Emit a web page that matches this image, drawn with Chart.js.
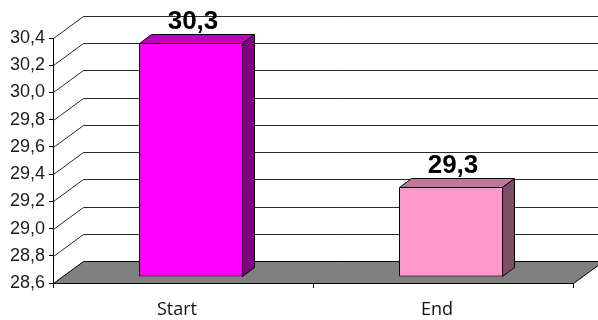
<!DOCTYPE html>
<html>
<head>
<meta charset="utf-8">
<script src="https://cdn.jsdelivr.net/npm/chart.js@4/dist/chart.umd.min.js"></script>
<style>
html,body{margin:0;padding:0;background:#fff;}
#c{display:block;}
</style>
</head>
<body>
<canvas id="c" width="598" height="320"></canvas>
<script>
const categories = ['Start', 'End'];
const values = [30.32, 29.26];
const valueLabels = ['30,3', '29,3'];
const frontColors = ['#FF00FF', '#FF99CC'];
const topColors = ['#C000C0', '#C0759C'];
const sideColors = ['#800080', '#7F4C66'];
const yMin = 28.6, yMax = 30.4, yStep = 0.2;

const WALL_DX = 30, WALL_DY = -22;   // back wall offset
const BAR_DX = 8, BAR_DY = -6;       // bar front offset
const DEPTH_DX = 12, DEPTH_DY = -9;  // bar depth

const fmt = v => v.toFixed(1).replace('.', ',');

const threeD = {
  id: 'threeD',
  beforeDatasetsDraw(chart) {
    const ctx = chart.ctx;
    const ys = chart.scales.y;
    const a = chart.chartArea;
    const L = a.left + 0.5, R = a.right + 0.5, B = Math.round(a.bottom) + 0.5;
    ctx.save();
    // floor
    ctx.beginPath();
    ctx.moveTo(L, B);
    ctx.lineTo(L + WALL_DX, B + WALL_DY);
    ctx.lineTo(R + WALL_DX, B + WALL_DY);
    ctx.lineTo(R, B);
    ctx.closePath();
    ctx.fillStyle = '#808080';
    ctx.fill();
    ctx.strokeStyle = '#000';
    ctx.lineWidth = 1;
    ctx.stroke();
    // back wall gridlines
    ctx.strokeStyle = '#2a2a2a';
    ys.ticks.forEach(t => {
      if (Math.abs(t.value - yMin) < 1e-6) return;
      const y = Math.round(ys.getPixelForValue(t.value)) + 0.5;
      ctx.beginPath();
      ctx.moveTo(L, y);
      ctx.lineTo(L + WALL_DX, y + WALL_DY);
      ctx.lineTo(R + WALL_DX + 40, y + WALL_DY);
      ctx.stroke();
    });
    ctx.restore();
    ctx.save();
    ctx.translate(BAR_DX, BAR_DY);
  },
  afterDatasetsDraw(chart) {
    const ctx = chart.ctx;
    ctx.restore();
    const meta = chart.getDatasetMeta(0);
    ctx.save();
    ctx.translate(BAR_DX, BAR_DY);
    ctx.strokeStyle = '#000';
    ctx.lineWidth = 1;
    meta.data.forEach((bar, i) => {
      const p = bar.getProps(['x', 'y', 'base', 'width'], true);
      const x0 = Math.round(p.x - p.width / 2) + 0.5;
      const x1 = Math.round(p.x + p.width / 2) - 0.5;
      const yt = Math.round(p.y) + 0.5;
      const yb = Math.round(p.base) - 0.5;
      // top face
      ctx.beginPath();
      ctx.moveTo(x0, yt);
      ctx.lineTo(x0 + DEPTH_DX, yt + DEPTH_DY);
      ctx.lineTo(x1 + DEPTH_DX, yt + DEPTH_DY);
      ctx.lineTo(x1, yt);
      ctx.closePath();
      ctx.fillStyle = topColors[i];
      ctx.fill();
      ctx.stroke();
      // side face
      ctx.beginPath();
      ctx.moveTo(x1, yt);
      ctx.lineTo(x1 + DEPTH_DX, yt + DEPTH_DY);
      ctx.lineTo(x1 + DEPTH_DX, yb + DEPTH_DY);
      ctx.lineTo(x1, yb);
      ctx.closePath();
      ctx.fillStyle = sideColors[i];
      ctx.fill();
      ctx.stroke();
      // value label
      ctx.fillStyle = '#000';
      ctx.font = 'bold 26px "Liberation Sans", Arial, sans-serif';
      ctx.textAlign = 'center';
      ctx.textBaseline = 'alphabetic';
      ctx.fillText(valueLabels[i], p.x + DEPTH_DX / 2 - 4, yt + DEPTH_DY - 6);
    });
    ctx.restore();
  }
};

new Chart(document.getElementById('c'), {
  type: 'bar',
  data: {
    labels: categories,
    datasets: [{
      data: values,
      base: yMin,
      backgroundColor: frontColors,
      borderColor: '#000',
      borderWidth: 1,
      borderSkipped: false,
      categoryPercentage: 0.8,
      barPercentage: 0.5,
      clip: false
    }]
  },
  options: {
    responsive: false,
    devicePixelRatio: 1,
    animation: false,
    events: [],
    layout: { padding: { top: 38, right: 25, left: 0, bottom: 0 } },
    plugins: { legend: { display: false }, tooltip: { enabled: false }, title: { display: false } },
    scales: {
      y: {
        min: yMin, max: yMax,
        afterFit(s) { s.width = 53; },
        ticks: {
          stepSize: yStep,
          padding: 4,
          color: '#1b1b1b',
          font: { family: '"Liberation Sans", Arial, sans-serif', size: 18 },
          callback: v => fmt(v)
        },
        grid: { display: true, drawOnChartArea: false, drawTicks: true, tickLength: 4, color: '#000' },
        border: { display: true, color: '#000', width: 1 }
      },
      x: {
        afterFit(s) { s.height = 37; },
        ticks: {
          padding: 11,
          labelOffset: -6,
          color: '#111',
          font: { family: '"Open Sans", "Noto Sans", sans-serif', size: 18 }
        },
        grid: { display: true, offset: true, drawOnChartArea: false, drawTicks: true, tickLength: 5, color: '#000' },
        border: { display: true, color: '#000', width: 1 }
      }
    }
  },
  plugins: [threeD]
});
</script>
</body>
</html>
